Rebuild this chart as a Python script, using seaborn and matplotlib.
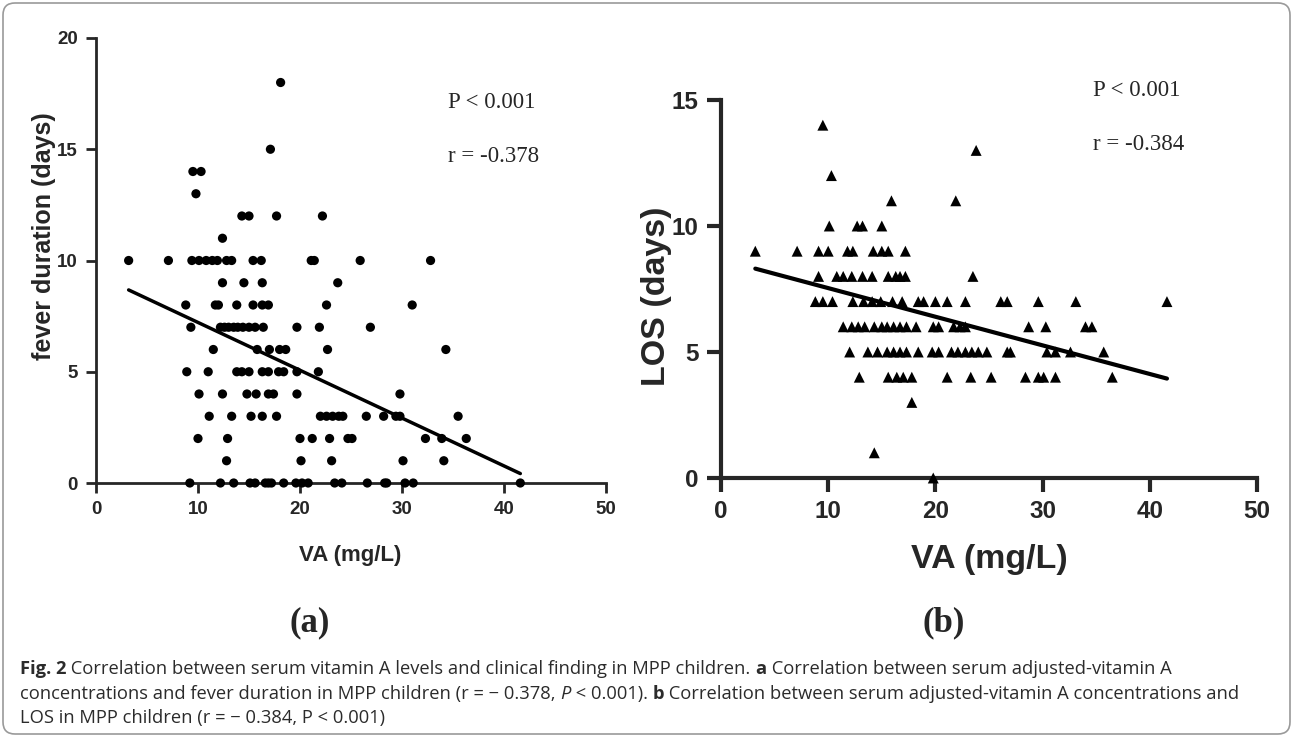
import numpy as np
import matplotlib
matplotlib.use("Agg")
import matplotlib.pyplot as plt
import seaborn as sns
from matplotlib.patches import FancyBboxPatch

# ---------------- data ----------------
# Panel (a): VA (mg/L) vs fever duration (days)
fever_va = [
    18.1,
    17.1,
    9.5, 10.3,
    9.8,
    14.3, 15.0, 17.7, 22.2,
    12.4,
    3.2, 7.1, 9.4, 10.1, 10.8, 11.4, 11.9, 12.8, 13.3, 15.4, 16.2, 21.1, 21.4, 25.9, 32.8,
    12.4, 14.5, 16.3, 23.7,
    8.8, 11.7, 12.0, 13.8, 15.4, 16.3, 16.9, 22.6, 31.0,
    9.3, 12.2, 12.6, 13.0, 13.5, 13.9, 14.4, 15.0, 15.6, 16.4, 19.7, 21.9, 26.9,
    11.5, 15.8, 17.0, 18.0, 18.6, 22.7, 34.3,
    8.9, 11.0, 13.8, 14.3, 15.0, 16.3, 16.9, 17.9, 18.4, 19.7, 21.8,
    10.1, 12.4, 14.8, 15.7, 16.9, 17.4, 19.7, 29.8,
    11.1, 13.3, 15.2, 16.3, 17.7, 22.0, 22.6, 23.2, 23.8, 24.2, 26.5, 28.2, 29.4, 29.8, 35.5,
    10.0, 12.9, 20.0, 21.2, 22.9, 24.7, 25.1, 32.3, 33.9, 36.3,
    12.8, 20.1, 23.1, 30.1, 34.1,
    9.2, 12.2, 13.5, 15.1, 15.6, 16.6, 16.9, 17.2, 18.4, 19.6, 20.2, 20.8, 23.4, 24.1,
    26.6, 28.3, 28.5, 30.3, 31.1, 41.6,
]
fever_days = (
    [18] + [15] + [14] * 2 + [13] + [12] * 4 + [11] + [10] * 15 + [9] * 4 + [8] * 9
    + [7] * 13 + [6] * 7 + [5] * 11 + [4] * 8 + [3] * 15 + [2] * 10 + [1] * 5 + [0] * 20
)

# Panel (b): VA (mg/L) vs length of stay (days)
los_va = [
    9.5,
    23.8,
    10.3,
    15.9, 21.9,
    10.1, 12.7, 13.2, 15.0,
    3.2, 7.1, 9.1, 10.0, 11.8, 12.3, 14.2, 15.0, 15.6, 17.2,
    9.1, 10.8, 11.4, 12.2, 13.2, 14.1, 15.6, 16.3, 16.7, 17.2, 23.5,
    8.8, 9.5, 10.4, 12.3, 13.3, 14.1, 14.9, 16.0, 16.9, 18.4, 18.9, 20.0, 21.1, 22.8,
    26.1, 26.7, 29.6, 33.1, 41.6,
    11.4, 12.2, 12.8, 13.4, 14.3, 15.0, 15.5, 16.1, 16.7, 17.3, 18.2, 19.8, 20.3, 21.7,
    22.3, 22.8, 28.7, 30.3, 34.0, 34.6,
    12.0, 13.7, 14.6, 15.5, 16.1, 16.7, 17.3, 18.4, 19.7, 20.3, 21.5, 22.1, 22.8, 23.4,
    24.0, 24.8, 26.7, 27.0, 30.4, 31.2, 32.6, 35.7,
    12.9, 15.6, 16.4, 17.0, 17.8, 21.1, 23.3, 25.2, 28.4, 29.6, 30.1, 31.2, 36.5,
    17.8,
    14.3,
    19.8,
]
los_days = (
    [14] + [13] + [12] + [11] * 2 + [10] * 4 + [9] * 10 + [8] * 11 + [7] * 19
    + [6] * 20 + [5] * 22 + [4] * 13 + [3] + [1] + [0]
)

x_ticks = [0, 10, 20, 30, 40, 50]
fever_ticks = [0, 5, 10, 15, 20]
los_ticks = [0, 5, 10, 15]

stats_a = ["P < 0.001", "r = -0.378"]
stats_b = ["P < 0.001", "r = -0.384"]

# ---------------- figure ----------------
W, H = 1293, 737
sns.set_style("ticks")
plt.rcParams["font.family"] = ["Liberation Sans", "DejaVu Sans"]
fig = plt.figure(figsize=(W / 100, H / 100), dpi=100)
fig.patch.set_facecolor("white")


def px_box(l, t, r, b):
    return [l / W, 1 - b / H, (r - l) / W, (b - t) / H]


def fxy(x, y):
    return x / W, 1 - y / H


axA = fig.add_axes(px_box(96, 38, 606, 483))
axB = fig.add_axes(px_box(721, 100, 1257, 478))

# panel a
sns.scatterplot(x=np.array(fever_va), y=np.array(fever_days), ax=axA, marker="o",
                s=44, color="black", edgecolor="none", linewidth=0,
                clip_on=False, zorder=4)
sns.regplot(x=np.array(fever_va), y=np.array(fever_days), ax=axA, scatter=False,
            ci=None, truncate=True, color="black", line_kws=dict(lw=2.5, zorder=3))
axA.set_xlim(0, 50)
axA.set_ylim(0, 20)
axA.set_xticks(x_ticks)
axA.set_yticks(fever_ticks)
sns.despine(ax=axA)
for s in ["left", "bottom"]:
    axA.spines[s].set_linewidth(2)
axA.tick_params(direction="out", length=7, width=2, labelsize=13.5, pad=6)
for lab in axA.get_xticklabels() + axA.get_yticklabels():
    lab.set_fontweight("bold")
axA.set_xlabel("VA (mg/L)", fontsize=16, fontweight="bold")
axA.set_ylabel("fever duration (days)", fontsize=18, fontweight="bold")
axA.xaxis.set_label_coords(0.498, -0.162)
axA.xaxis.label.set_va("center")
axA.yaxis.set_label_coords(-0.102, 0.555)
axA.yaxis.label.set_va("center")

# panel b
sns.scatterplot(x=np.array(los_va), y=np.array(los_days), ax=axB, marker="^",
                s=62, color="black", edgecolor="none", linewidth=0,
                clip_on=False, zorder=4)
sns.regplot(x=np.array(los_va), y=np.array(los_days), ax=axB, scatter=False,
            ci=None, truncate=True, color="black", line_kws=dict(lw=3, zorder=3))
axB.set_xlim(0, 50)
axB.set_ylim(0, 15)
axB.set_xticks(x_ticks)
axB.set_yticks(los_ticks)
sns.despine(ax=axB)
for s in ["left", "bottom"]:
    axB.spines[s].set_linewidth(3)
axB.tick_params(direction="out", length=10, width=3, labelsize=17.5, pad=6)
for lab in axB.get_xticklabels() + axB.get_yticklabels():
    lab.set_fontweight("bold")
axB.set_xlabel("VA (mg/L)", fontsize=24.5, fontweight="bold")
axB.set_ylabel("LOS (days)", fontsize=24.5, fontweight="bold")
axB.xaxis.set_label_coords(0.5, -0.215)
axB.xaxis.label.set_va("center")
axB.yaxis.set_label_coords(-0.12, 0.48)
axB.yaxis.label.set_va("center")

# stats annotations
serif = ["Liberation Serif", "DejaVu Serif"]
fig.text(*fxy(448, 102), stats_a[0], family=serif, fontsize=16.5, va="center", ha="left")
fig.text(*fxy(448, 157), stats_a[1], family=serif, fontsize=16.5, va="center", ha="left")
fig.text(*fxy(1093, 90), stats_b[0], family=serif, fontsize=16.5, va="center", ha="left")
fig.text(*fxy(1093, 145), stats_b[1], family=serif, fontsize=16.5, va="center", ha="left")

# panel letters
fig.text(*fxy(310, 623), "(a)", family=serif, fontsize=25, fontweight="bold",
         va="center", ha="center")
fig.text(*fxy(944, 623), "(b)", family=serif, fontsize=25, fontweight="bold",
         va="center", ha="center")

# caption
renderer = fig.canvas.get_renderer()
cap_font = ["Open Sans", "DejaVu Sans"]
cap_color = "#2b2b2b"
cap_size = 13.2


def draw_line(segments, x0, y):
    x = x0
    for txt, kw in segments:
        t = fig.text(*fxy(x, y), txt, fontsize=cap_size, family=cap_font,
                     color=cap_color, va="center", ha="left", **kw)
        bb = t.get_window_extent(renderer)
        x = bb.x1


B = dict(fontweight="bold")
I = dict(style="italic")
N = dict()
draw_line([("Fig. 2", B),
           (" Correlation between serum vitamin A levels and clinical finding in MPP children. ", N),
           ("a", B),
           (" Correlation between serum adjusted-vitamin A", N)], 20, 669)
draw_line([("concentrations and fever duration in MPP children (r = \u2212 0.378, ", N),
           ("P", I),
           (" < 0.001). ", N),
           ("b", B),
           (" Correlation between serum adjusted-vitamin A concentrations and", N)], 20, 694)
draw_line([("LOS in MPP children (r = \u2212 0.384, P < 0.001)", N)], 20, 718)

# rounded frame
frame = FancyBboxPatch((0.03, 0.03), W / 100 - 0.06, H / 100 - 0.06,
                       boxstyle="round,pad=0,rounding_size=0.12",
                       transform=fig.dpi_scale_trans, facecolor="none",
                       edgecolor="#9a9a9a", linewidth=1.2)
fig.patches.append(frame)

fig.savefig("out.png", dpi=100, facecolor="white")
